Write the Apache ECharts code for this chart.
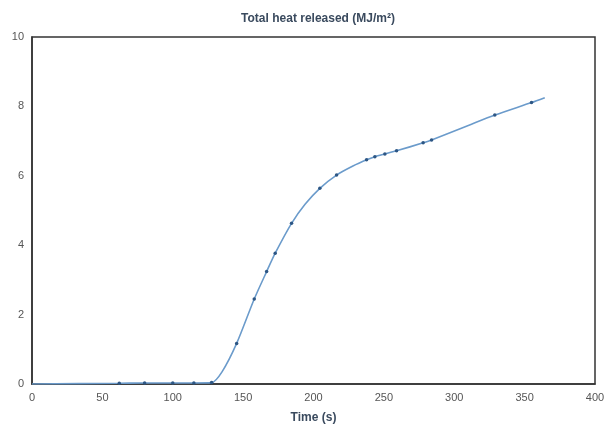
<!DOCTYPE html>
<html lang="en">
<head>
<meta charset="UTF-8" />
<title>Total heat released</title>
<script src="https://cdn.jsdelivr.net/npm/echarts@6/dist/echarts.min.js"></script>
<style>
  html, body { margin: 0; padding: 0; background: #fff; }
  #main { width: 612px; height: 432px; }
</style>
</head>
<body>
<div id="main"></div>
<script>
  // time (s) and total heat released (MJ/m2)
  var times = [0, 62, 80, 100, 115, 127.6, 135, 145.4, 157.9, 166.7, 172.8, 184.4, 194, 204.5, 216.4,
               228, 237.7, 243.6, 250.7, 259, 277.9, 283.9, 310, 328.8, 354.9, 364.3];
  var heat = [0, 0.02, 0.03, 0.03, 0.03, 0.04, 0.35, 1.17, 2.45, 3.24, 3.77, 4.63, 5.18, 5.64, 6.02,
              6.28, 6.46, 6.55, 6.63, 6.72, 6.95, 7.03, 7.45, 7.75, 8.11, 8.25];
  // which points carry a dot marker
  var marked = [0, 1, 1, 1, 1, 1, 0, 1, 1, 1, 1, 1, 0, 1, 1, 0, 1, 1, 1, 1, 1, 1, 0, 1, 1, 0];

  var xTicks = [0, 50, 100, 150, 200, 250, 300, 350, 400];
  var yTicks = [0, 2, 4, 6, 8, 10];

  var data = [];
  for (var i = 0; i < times.length; i++) {
    var item = { value: [times[i], heat[i]] };
    if (!marked[i]) item.symbol = 'none';
    data.push(item);
  }

  var myChart = echarts.init(document.getElementById('main'));
  var option = {
    animation: false,
    backgroundColor: '#fff',
    title: {
      text: 'Total heat released (MJ/m²)',
      left: 313,
      textAlign: 'center',
      top: 8,
      textStyle: { fontFamily: 'Liberation Sans', fontSize: 12, fontWeight: 'bold', color: '#3a4a5e' }
    },
    grid: {
      left: 32, right: 17, top: 37, bottom: 48,
      show: true, borderColor: '#333', borderWidth: 1.5, backgroundColor: '#fff'
    },
    xAxis: {
      type: 'value',
      min: xTicks[0], max: xTicks[xTicks.length - 1], interval: 50,
      name: 'Time (s)', nameLocation: 'middle', nameGap: 28,
      nameTextStyle: { fontFamily: 'Liberation Sans', fontSize: 12, fontWeight: 'bold', color: '#3a4a5e' },
      axisLine: { show: true, lineStyle: { color: '#333', width: 1.5 } },
      axisTick: { show: false },
      splitLine: { show: false },
      axisLabel: { fontFamily: 'Liberation Sans', fontSize: 11, color: '#555', margin: 8 }
    },
    yAxis: {
      type: 'value',
      min: yTicks[0], max: yTicks[yTicks.length - 1], interval: 2,
      axisLine: { show: true, lineStyle: { color: '#333', width: 1.5 } },
      axisTick: { show: false },
      splitLine: { show: false },
      axisLabel: { fontFamily: 'Liberation Sans', fontSize: 11, color: '#555', margin: 8 }
    },
    series: [{
      type: 'line',
      data: data,
      smooth: 0.25,
      symbol: 'circle',
      symbolSize: 3.5,
      showAllSymbol: true,
      lineStyle: { color: '#6b9bcb', width: 1.6 },
      itemStyle: { color: '#2d5684' }
    }]
  };
  myChart.setOption(option);
</script>
</body>
</html>
